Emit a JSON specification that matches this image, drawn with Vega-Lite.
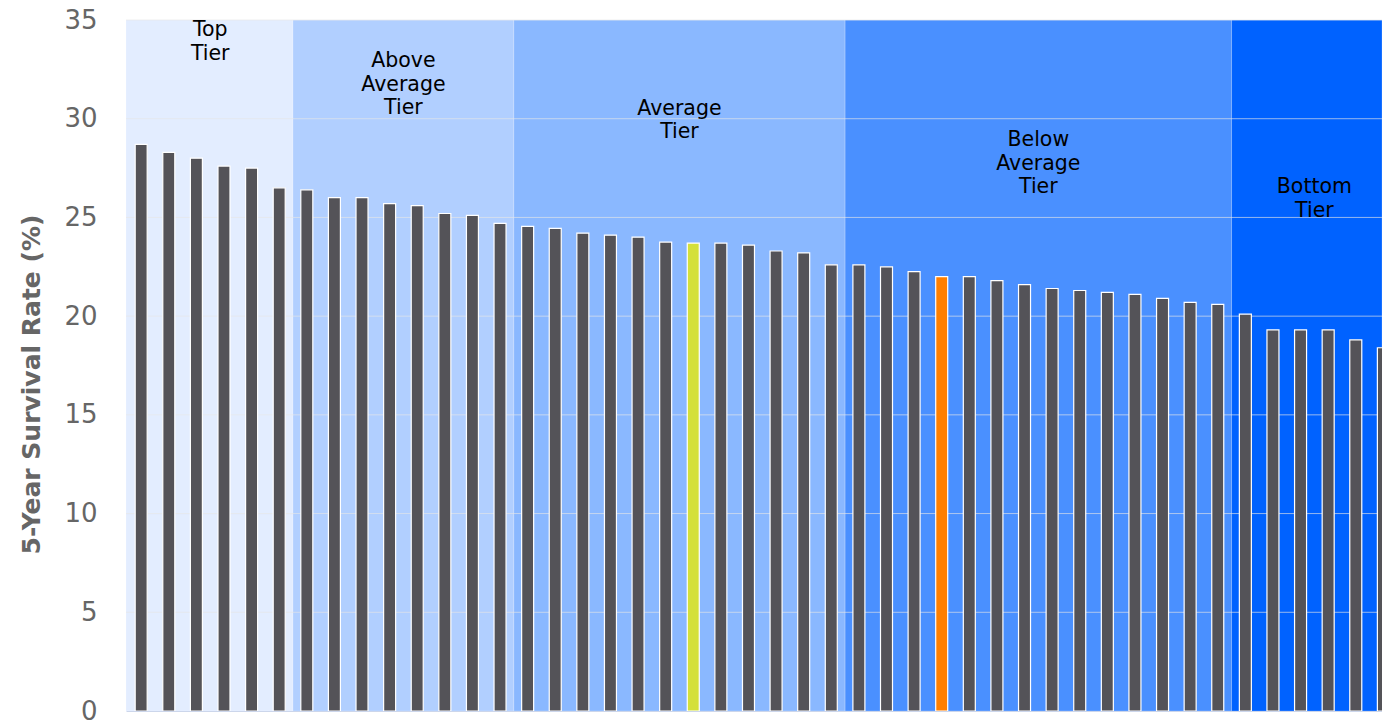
{
  "$schema": "https://vega.github.io/schema/vega-lite/v6.json",
  "autosize": {"type": "none"},
  "padding": {"left": 126, "top": 20, "right": 0, "bottom": 10},
  "width": 1256,
  "height": 691,
  "background": "#ffffff",
  "config": {"view": {"stroke": null}, "scale": {"continuousPadding": 0}},
  "datasets": {
    "tiers": [
      {"tier": "Top Tier", "start": 0.45, "end": 6.5, "mid": 3.5, "labelY": 34.47, "label": ["Top", "Tier"]},
      {"tier": "Above Average Tier", "start": 6.5, "end": 14.5, "mid": 10.5, "labelY": 32.9, "label": ["Above", "Average", "Tier"]},
      {"tier": "Average Tier", "start": 14.5, "end": 26.5, "mid": 20.5, "labelY": 30.51, "label": ["Average", "Tier"]},
      {"tier": "Below Average Tier", "start": 26.5, "end": 40.5, "mid": 33.5, "labelY": 28.9, "label": ["Below", "Average", "Tier"]},
      {"tier": "Bottom Tier", "start": 40.5, "end": 45.95, "mid": 43.5, "labelY": 26.52, "label": ["Bottom", "Tier"]}
    ],
    "grid": [{"v": 5}, {"v": 10}, {"v": 15}, {"v": 20}, {"v": 25}, {"v": 30}, {"v": 35}],
    "bars": [
      {"rank": 1, "rate": 28.7, "status": "default"},
      {"rank": 2, "rate": 28.3, "status": "default"},
      {"rank": 3, "rate": 28.0, "status": "default"},
      {"rank": 4, "rate": 27.6, "status": "default"},
      {"rank": 5, "rate": 27.5, "status": "default"},
      {"rank": 6, "rate": 26.5, "status": "default"},
      {"rank": 7, "rate": 26.4, "status": "default"},
      {"rank": 8, "rate": 26.0, "status": "default"},
      {"rank": 9, "rate": 26.0, "status": "default"},
      {"rank": 10, "rate": 25.7, "status": "default"},
      {"rank": 11, "rate": 25.6, "status": "default"},
      {"rank": 12, "rate": 25.2, "status": "default"},
      {"rank": 13, "rate": 25.1, "status": "default"},
      {"rank": 14, "rate": 24.7, "status": "default"},
      {"rank": 15, "rate": 24.55, "status": "default"},
      {"rank": 16, "rate": 24.45, "status": "default"},
      {"rank": 17, "rate": 24.2, "status": "default"},
      {"rank": 18, "rate": 24.1, "status": "default"},
      {"rank": 19, "rate": 24.0, "status": "default"},
      {"rank": 20, "rate": 23.75, "status": "default"},
      {"rank": 21, "rate": 23.7, "status": "highlight"},
      {"rank": 22, "rate": 23.7, "status": "default"},
      {"rank": 23, "rate": 23.6, "status": "default"},
      {"rank": 24, "rate": 23.3, "status": "default"},
      {"rank": 25, "rate": 23.2, "status": "default"},
      {"rank": 26, "rate": 22.6, "status": "default"},
      {"rank": 27, "rate": 22.6, "status": "default"},
      {"rank": 28, "rate": 22.5, "status": "default"},
      {"rank": 29, "rate": 22.25, "status": "default"},
      {"rank": 30, "rate": 22.0, "status": "comparison"},
      {"rank": 31, "rate": 22.0, "status": "default"},
      {"rank": 32, "rate": 21.8, "status": "default"},
      {"rank": 33, "rate": 21.6, "status": "default"},
      {"rank": 34, "rate": 21.4, "status": "default"},
      {"rank": 35, "rate": 21.3, "status": "default"},
      {"rank": 36, "rate": 21.2, "status": "default"},
      {"rank": 37, "rate": 21.1, "status": "default"},
      {"rank": 38, "rate": 20.9, "status": "default"},
      {"rank": 39, "rate": 20.7, "status": "default"},
      {"rank": 40, "rate": 20.6, "status": "default"},
      {"rank": 41, "rate": 20.1, "status": "default"},
      {"rank": 42, "rate": 19.3, "status": "default"},
      {"rank": 43, "rate": 19.3, "status": "default"},
      {"rank": 44, "rate": 19.3, "status": "default"},
      {"rank": 45, "rate": 18.8, "status": "default"},
      {"rank": 46, "rate": 18.4, "status": "default"}
    ]
  },
  "layer": [
    {
      "data": {"name": "tiers"},
      "mark": {"type": "rect", "clip": true, "stroke": "#ffffff", "strokeOpacity": 0.2, "strokeWidth": 1},
      "encoding": {
        "x": {"field": "start", "type": "quantitative", "scale": {"domain": [0.45, 45.95], "nice": false, "zero": false, "padding": 0}},
        "x2": {"field": "end"},
        "color": {
          "field": "tier", "type": "nominal", "legend": null,
          "scale": {
            "domain": ["Top Tier", "Above Average Tier", "Average Tier", "Below Average Tier", "Bottom Tier"],
            "range": ["#e3edff", "#b1cfff", "#8ab8ff", "#4a90ff", "#0062ff"]
          }
        }
      }
    },
    {
      "data": {"name": "grid"},
      "mark": {"type": "rule", "color": "#e6e6e6", "opacity": 0.65, "strokeWidth": 1},
      "encoding": {
        "y": {"field": "v", "type": "quantitative", "scale": {"domain": [0, 35], "nice": false, "zero": true}}
      }
    },
    {
      "data": {"name": "tiers"},
      "mark": {"type": "text", "font": "DejaVu Sans", "fontSize": 20.5, "lineHeight": 23.5, "color": "#000000", "align": "center", "baseline": "middle"},
      "encoding": {
        "x": {"field": "mid", "type": "quantitative", "scale": {"domain": [0.45, 45.95], "nice": false, "zero": false, "padding": 0}},
        "y": {"field": "labelY", "type": "quantitative", "scale": {"domain": [0, 35], "nice": false, "zero": true}},
        "text": {"field": "label"}
      }
    },
    {
      "data": {"name": "bars"},
      "mark": {"type": "bar", "size": 12, "stroke": "#ffffff", "strokeWidth": 1.2, "clip": true},
      "encoding": {
        "x": {
          "field": "rank", "type": "quantitative",
          "scale": {"domain": [0.45, 45.95], "nice": false, "zero": false, "padding": 0},
          "axis": {"title": null, "labels": false, "ticks": false, "grid": false, "domain": true, "domainColor": "#ccd6eb", "domainWidth": 1}
        },
        "y": {
          "field": "rate", "type": "quantitative",
          "scale": {"domain": [0, 35], "nice": false, "zero": true},
          "axis": {
            "title": "5-Year Survival Rate (%)",
            "values": [0, 5, 10, 15, 20, 25, 30, 35],
            "grid": false, "ticks": false, "domain": false,
            "labelFont": "DejaVu Sans", "labelFontSize": 26, "labelColor": "#666666",
            "labelPadding": 29, "labelFlush": false, "labelBaseline": "middle",
            "titleFont": "DejaVu Sans", "titleFontSize": 25, "titleFontWeight": "bold", "titleColor": "#666666",
            "titleAngle": -90, "titleAlign": "center", "titleBaseline": "middle",
            "titleX": -95, "titleY": 364
          }
        },
        "color": {
          "field": "status", "type": "nominal", "legend": null,
          "scale": {"domain": ["default", "highlight", "comparison"], "range": ["#545358", "#d4e03a", "#ff7f00"]}
        }
      }
    }
  ],
  "resolve": {"scale": {"color": "independent"}}
}
